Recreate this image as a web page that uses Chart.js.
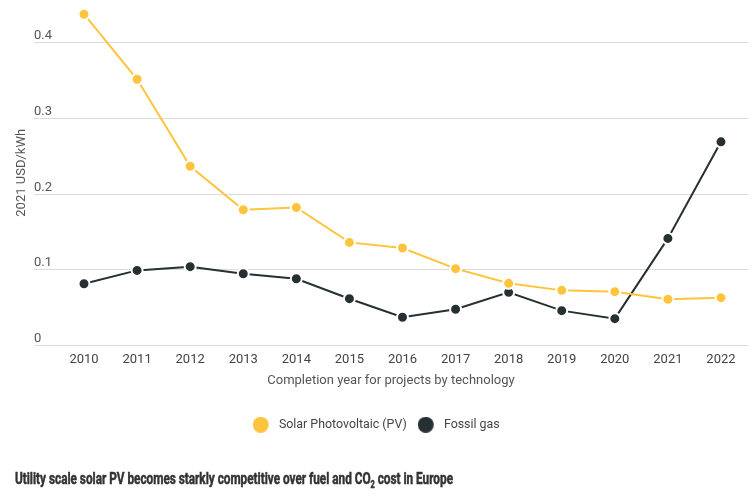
<!DOCTYPE html>
<html><head><meta charset="utf-8">
<script src="https://cdn.jsdelivr.net/npm/chart.js@4"></script>
<style>
html,body{margin:0;padding:0;background:#fff;}
#wrap{position:relative;width:753px;height:498px;overflow:hidden;}
#c{position:absolute;left:0;top:0;}
#title{position:absolute;left:15px;top:469px;font-family:Roboto,sans-serif;font-weight:700;font-size:16px;line-height:20px;color:#333;white-space:nowrap;transform-origin:0 0;-webkit-text-stroke:0.5px #333;}
#title sub{font-size:10px;vertical-align:-4px;line-height:0;}
</style></head><body>
<div id="wrap"><canvas id="c" width="753" height="498"></canvas>
<div id="title">Utility scale solar PV becomes starkly competitive over fuel and CO<sub>2</sub> cost in Europe</div></div>
<script>
const categories = ['2010','2011','2012','2013','2014','2015','2016','2017','2018','2019','2020','2021','2022'];
const solarPV = [0.438, 0.352, 0.237, 0.1795, 0.1826, 0.1364, 0.129, 0.1017, 0.0823, 0.073, 0.0713, 0.0612, 0.0634];
const fossilGas = [0.0818, 0.0994, 0.1043, 0.095, 0.0884, 0.062, 0.0374, 0.048, 0.0704, 0.0462, 0.0356, 0.1417, 0.2693];
const yTicks = [0, 0.1, 0.2, 0.3, 0.4];
const seriesNames = ['Solar Photovoltaic (PV)', 'Fossil gas'];

const YELLOW = '#fec43c';
const DARK = '#263032';

function legendDot(color) {
  const cv = document.createElement('canvas');
  cv.width = 28; cv.height = 16;
  const g = cv.getContext('2d');
  g.fillStyle = color;
  g.beginPath(); g.arc(8, 8, 8, 0, Math.PI * 2); g.fill();
  return cv;
}
const dots = [legendDot(YELLOW), legendDot(DARK)];

const toPts = arr => arr.map((v, i) => ({x: Number(categories[i]), y: v}));

new Chart(document.getElementById('c'), {
  type: 'line',
  data: {
    datasets: [
      {label: seriesNames[0], data: toPts(solarPV), borderColor: YELLOW, backgroundColor: YELLOW,
       pointBackgroundColor: YELLOW, pointBorderColor: '#fff', pointBorderWidth: 2, pointRadius: 5.5,
       borderWidth: 2, tension: 0, clip: false},
      {label: seriesNames[1], data: toPts(fossilGas), borderColor: DARK, backgroundColor: DARK,
       pointBackgroundColor: DARK, pointBorderColor: '#fff', pointBorderWidth: 2, pointRadius: 5.5,
       borderWidth: 2, tension: 0, clip: false}
    ]
  },
  options: {
    responsive: false,
    animation: false,
    devicePixelRatio: 1,
    layout: {autoPadding: false, padding: {left: 12.4, right: 5, top: 0, bottom: 57}},
    plugins: {
      tooltip: {enabled: false},
      legend: {
        position: 'bottom',
        labels: {
          usePointStyle: true,
          boxWidth: 12, boxHeight: 12,
          padding: 19,
          color: '#444',
          font: {family: 'Roboto', size: 12.4},
          generateLabels: (chart) => {
            const items = Chart.defaults.plugins.legend.labels.generateLabels(chart);
            items.forEach((it, i) => { it.pointStyle = dots[i]; });
            return items;
          }
        }
      }
    },
    scales: {
      x: {
        type: 'linear',
        min: 2009.058, max: 2022.509,
        afterBuildTicks: (s) => { s.ticks = categories.map(c => ({value: Number(c)})); },
        grid: {display: false, drawTicks: false},
        border: {display: false},
        ticks: {
          autoSkip: false, maxRotation: 0, padding: 6,
          color: '#444', font: {family: 'Roboto', size: 13},
          callback: (v) => String(v)
        },
        title: {display: true, text: 'Completion year for projects by technology',
          color: '#555', font: {family: 'Roboto', size: 13}, padding: {top: 0, bottom: 10.8}}
      },
      y: {
        min: 0, max: 0.4568,
        afterBuildTicks: (s) => { s.ticks = yTicks.map(v => ({value: v})); },
        afterFit: (s) => { s.paddingTop = 0; s.paddingBottom = 0; },
        grid: {color: '#dcdcdc', lineWidth: 1, drawTicks: false},
        border: {display: false},
        ticks: {mirror: true, padding: 0, labelOffset: -7, color: '#555',
          font: {family: 'Roboto', size: 13}, callback: (v) => String(v)},
        title: {display: true, text: '2021 USD/kWh', color: '#555',
          font: {family: 'Roboto', size: 13}, padding: {top: 2, bottom: 4}}
      }
    }
  }
});

const t = document.getElementById('title');
const w = t.getBoundingClientRect().width;
t.style.transform = 'scaleX(' + (438 / w) + ')';
</script>
</body></html>
